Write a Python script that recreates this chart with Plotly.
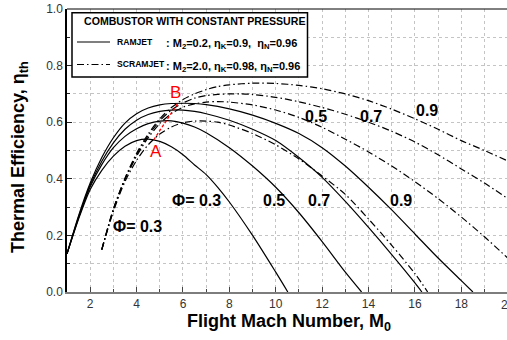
import plotly.graph_objects as go

# ---- Ramjet curves (solid), thermal efficiency vs flight Mach number ----
ram_m_03 = [1, 1.5, 2, 2.5, 3, 3.5, 4, 4.5, 5, 5.5, 6, 6.5, 7, 7.5, 8, 9, 10, 10.52]
ram_e_03 = [0.135, 0.258, 0.362, 0.43, 0.48, 0.515, 0.535, 0.54, 0.532, 0.513, 0.485,
            0.449, 0.415, 0.37, 0.318, 0.2, 0.07, 0.0]

ram_m_05 = [1, 1.5, 2, 2.5, 3, 3.5, 4, 4.5, 5, 5.5, 6, 6.5, 7, 8, 9, 10, 11, 12, 13, 13.7]
ram_e_05 = [0.135, 0.262, 0.372, 0.45, 0.51, 0.55, 0.577, 0.595, 0.604, 0.605, 0.597,
            0.583, 0.563, 0.51, 0.445, 0.37, 0.28, 0.178, 0.07, 0.0]

ram_m_07 = [1, 1.5, 2, 2.5, 3, 3.5, 4, 4.5, 5, 5.5, 6, 6.5, 7, 8, 9, 10, 11, 12, 13,
            14, 15, 16, 16.3]
ram_e_07 = [0.135, 0.265, 0.378, 0.462, 0.527, 0.575, 0.607, 0.627, 0.638, 0.643, 0.643,
            0.638, 0.63, 0.607, 0.575, 0.535, 0.475, 0.405, 0.32, 0.228, 0.132, 0.032, 0.0]

ram_m_09 = [1, 1.5, 2, 2.5, 3, 3.5, 4, 4.5, 5, 5.5, 6, 6.5, 7, 8, 9, 10, 11, 12, 13,
            14, 15, 16, 17, 18, 18.5]
ram_e_09 = [0.135, 0.27, 0.385, 0.475, 0.545, 0.597, 0.63, 0.65, 0.661, 0.666, 0.667,
            0.666, 0.662, 0.647, 0.625, 0.596, 0.56, 0.51, 0.445, 0.37, 0.29, 0.205,
            0.12, 0.04, 0.0]

# ---- Scramjet curves (dash-dot) ----
scr_m_03 = [2.5, 3, 3.5, 4, 4.5, 5, 5.5, 6, 6.5, 7, 7.5, 8, 9, 10, 11, 12, 13, 14, 15,
            16, 16.55]
scr_e_03 = [0.15, 0.285, 0.39, 0.465, 0.52, 0.558, 0.583, 0.598, 0.604, 0.604, 0.6,
            0.59, 0.56, 0.52, 0.47, 0.41, 0.345, 0.258, 0.165, 0.065, 0.0]

scr_m_05 = [2.5, 3, 3.5, 4, 4.5, 5, 5.5, 6, 6.5, 7, 7.5, 8, 9, 10, 11, 12, 13, 14, 15,
            16, 17, 18, 19, 20]
scr_e_05 = [0.15, 0.29, 0.398, 0.48, 0.545, 0.595, 0.63, 0.653, 0.665, 0.671, 0.673,
            0.671, 0.661, 0.643, 0.617, 0.582, 0.54, 0.495, 0.445, 0.39, 0.33, 0.265,
            0.195, 0.12]

scr_m_07 = [2.5, 3, 3.5, 4, 4.5, 5, 5.5, 6, 6.5, 7, 7.5, 8, 8.5, 9, 10, 11, 12, 13, 14,
            15, 16, 17, 18, 19, 20]
scr_e_07 = [0.15, 0.292, 0.4, 0.485, 0.552, 0.605, 0.643, 0.668, 0.685, 0.694, 0.698,
            0.7, 0.7, 0.698, 0.688, 0.672, 0.652, 0.628, 0.6, 0.568, 0.53, 0.485, 0.435,
            0.385, 0.33]

scr_m_09 = [2.5, 3, 3.5, 4, 4.5, 5, 5.5, 6, 6.5, 7, 7.5, 8, 9, 10, 11, 12, 13, 14, 15,
            16, 17, 18, 19, 20]
scr_e_09 = [0.15, 0.294, 0.402, 0.49, 0.558, 0.612, 0.652, 0.68, 0.7, 0.715, 0.726,
            0.732, 0.738, 0.737, 0.73, 0.718, 0.7, 0.676, 0.646, 0.612, 0.575, 0.535,
            0.5, 0.463]

# Locus of the ramjet / scramjet crossing points (A -> B)
ab_m = [4.74, 5.78]
ab_e = [0.538, 0.667]

x_ticks = [2, 4, 6, 8, 10, 12, 14, 16, 18]

FONT = "Liberation Sans, Arial, sans-serif"
DASHDOT = "7px,3px,1.5px,3px"

fig = go.Figure()

for m, e in [(ram_m_03, ram_e_03), (ram_m_05, ram_e_05),
             (ram_m_07, ram_e_07), (ram_m_09, ram_e_09)]:
    fig.add_trace(go.Scatter(x=m, y=e, mode="lines",
                             line=dict(color="black", width=1.2, shape="spline",
                                       smoothing=0.8)))

for m, e in [(scr_m_03, scr_e_03), (scr_m_05, scr_e_05),
             (scr_m_07, scr_e_07), (scr_m_09, scr_e_09)]:
    fig.add_trace(go.Scatter(x=m, y=e, mode="lines",
                             line=dict(color="black", width=1.2, dash=DASHDOT,
                                       shape="spline", smoothing=0.8)))

fig.add_trace(go.Scatter(x=ab_m, y=ab_e, mode="lines",
                         line=dict(color="red", width=1.3, dash="3px,2px")))

grid = dict(showgrid=True, gridcolor="#c4c4c4", griddash="dot", gridwidth=1)

fig.update_layout(
    width=507, height=340,
    margin=dict(l=67, r=0, t=9, b=48),
    paper_bgcolor="white", plot_bgcolor="white",
    showlegend=False,
    font=dict(family=FONT, color="#222"),
    xaxis=dict(range=[1, 19.97], tickmode="array", tickvals=x_ticks,
               ticks="inside", ticklen=5, tickwidth=1, tickcolor="#444",
               tickfont=dict(size=12, color="#333"),
               showline=True, linecolor="#7d7d7d", linewidth=2,
               zeroline=False,
               minor=dict(dtick=1, tick0=0, ticks="inside", ticklen=3,
                          tickcolor="#444", **grid),
               **grid),
    yaxis=dict(range=[0, 1.0], dtick=0.2, tick0=0, tickformat=".1f",
               ticks="inside", ticklen=5, tickwidth=1, tickcolor="#222",
               tickfont=dict(size=12, color="#333"),
               showline=True, linecolor="black", linewidth=1.5,
               zeroline=False,
               minor=dict(dtick=0.1, tick0=0, ticks="inside", ticklen=3,
                          tickcolor="#222", **grid),
               **grid),
)

def px(X):
    return (X - 67) / 440.0

def py(Y):
    return (292 - Y) / 283.0

shapes = [
    # top frame line
    dict(type="line", xref="paper", yref="paper", x0=0, x1=1, y0=1, y1=1,
         line=dict(color="black", width=1)),
    # legend box
    dict(type="rect", xref="paper", yref="paper", x0=px(72), x1=px(307.5),
         y0=py(77), y1=py(12.7), fillcolor="white",
         line=dict(color="black", width=1.5), layer="above"),
    dict(type="line", xref="paper", yref="paper", x0=px(77), x1=px(110),
         y0=py(42), y1=py(42), line=dict(color="black", width=1.2), layer="above"),
    dict(type="line", xref="paper", yref="paper", x0=px(77), x1=px(110),
         y0=py(64.5), y1=py(64.5), line=dict(color="black", width=1.2, dash=DASHDOT),
         layer="above"),
]
fig.update_layout(shapes=shapes)

ann = []

def label(x, y, text, size=16, color="black", bold=True, family=FONT, **kw):
    ann.append(dict(x=x, y=y, text=text, showarrow=False,
                    font=dict(size=size, color=color, family=family,
                              weight="bold" if bold else "normal"), **kw))

# curve labels (equivalence ratio)
label(4.03, 0.233, "Φ= 0.3")
label(6.59, 0.322, "Φ= 0.3")
label(9.92, 0.325, "0.5")
label(11.86, 0.325, "0.7")
label(15.39, 0.325, "0.9")
label(11.73, 0.62, "0.5")
label(14.09, 0.619, "0.7")
label(16.54, 0.64, "0.9")
label(4.84, 0.498, "A", size=17, color="red", bold=False)
label(5.67, 0.705, "B", size=17, color="red", bold=False)

# legend text
label(px(81.7), py(21.5), "COMBUSTOR WITH CONSTANT PRESSURE", size=10.6,
      xref="paper", yref="paper", xanchor="left", yanchor="middle")
label(px(115), py(42), "RAMJET", size=8.6,
      xref="paper", yref="paper", xanchor="left", yanchor="middle")
label(px(115), py(64.5), "SCRAMJET", size=8.6,
      xref="paper", yref="paper", xanchor="left", yanchor="middle")
label(px(164), py(44),
      ": M<sub>2</sub>=0.2, η<sub>K</sub>=0.9,  η<sub>N</sub>=0.96", size=11,
      xref="paper", yref="paper", xanchor="left", yanchor="middle")
label(px(164), py(66.5),
      ": M<sub>2</sub>=2.0, η<sub>K</sub>=0.98, η<sub>N</sub>=0.96", size=11,
      xref="paper", yref="paper", xanchor="left", yanchor="middle")

# axis titles
label(px(185), py(323), "Flight Mach Number, M<sub>0</sub>", size=18,
      xref="paper", yref="paper", xanchor="left", yanchor="middle")
label(px(20), py(157), "Thermal Efficiency, η<sub>th</sub>", size=18,
      xref="paper", yref="paper", xanchor="center", yanchor="middle",
      textangle=-90)

# partially visible tick label at the right edge (M = 20)
label(19.0 / 18.97, 0, "20", size=12, color="#333", bold=False,
      xref="paper", yref="paper", xanchor="center", yanchor="top", yshift=-4)

fig.update_layout(annotations=ann)

fig.write_html("out.html")
